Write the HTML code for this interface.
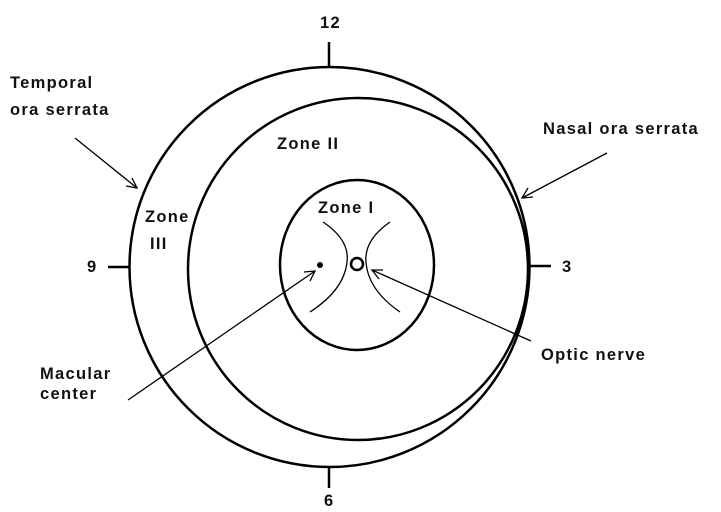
<!DOCTYPE html>
<html><head><meta charset="utf-8"><style>
html,body{margin:0;padding:0;background:#fff;}
svg{display:block;}
text{font-family:"Liberation Sans",sans-serif;font-size:16.5px;font-weight:bold;letter-spacing:1.3px;fill:#111;}
</style></head><body>
<svg width="721" height="512" viewBox="0 0 721 512" xmlns="http://www.w3.org/2000/svg">
<rect width="721" height="512" fill="#fff"/>
<g fill="none" stroke="#000" stroke-width="2.5">
<circle cx="329.5" cy="267" r="200"/>
<ellipse cx="358" cy="269" rx="170" ry="171"/>
<ellipse cx="357" cy="265" rx="77" ry="85"/>
<line x1="329" y1="42" x2="329" y2="67"/>
<line x1="329" y1="467" x2="329" y2="488"/>
<line x1="108" y1="267" x2="129" y2="267"/>
<line x1="530" y1="266" x2="551" y2="266"/>
<circle cx="357" cy="264" r="6"/>
</g>
<g fill="none" stroke="#000" stroke-width="1.3">
<path d="M323 222 Q350 240 347 262 Q344 290 310 312"/>
<path d="M390 222 Q364 240 366 262 Q368 290 400 312"/>
<line x1="75" y1="138" x2="137" y2="188"/>
<polyline points="126,186 137,188 132,178"/>
<line x1="607" y1="153" x2="522" y2="198"/>
<polyline points="528,188 522,198 533,197"/>
<line x1="128" y1="400" x2="315" y2="271"/>
<polyline points="304,272 315,271 310,281"/>
<line x1="531" y1="341" x2="372" y2="270"/>
<polyline points="383,270 372,270 379,279"/>
</g>
<circle cx="320" cy="265" r="3" fill="#000"/>
<text x="320" y="28">12</text>
<text x="324" y="506">6</text>
<text x="87" y="272">9</text>
<text x="562" y="272">3</text>
<text x="10" y="88">Temporal</text>
<text x="10" y="115">ora serrata</text>
<text x="543" y="134">Nasal ora serrata</text>
<text x="277" y="149">Zone II</text>
<text x="145" y="222">Zone</text>
<text x="150" y="249">III</text>
<text x="318" y="213">Zone I</text>
<text x="40" y="379">Macular</text>
<text x="40" y="399">center</text>
<text x="541" y="360">Optic nerve</text>
</svg>
</body></html>
